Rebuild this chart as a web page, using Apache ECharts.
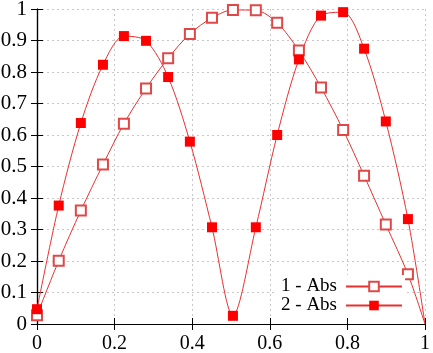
<!DOCTYPE html>
<html>
<head>
    <meta charset="UTF-8">
    <title>Abs</title>
    <script src="https://cdn.jsdelivr.net/npm/echarts@6/dist/echarts.min.js"></script>
    <style>
        html, body { margin: 0; padding: 0; background: #fff; }
        #chart { width: 433px; height: 353px; }
    </style>
</head>
<body>
<div id="chart"></div>
<script>
    // sample positions (shared by both curves)
    var xs = [0, 0.056, 0.113, 0.170, 0.224, 0.281, 0.338, 0.394, 0.451, 0.505,
              0.564, 0.619, 0.675, 0.732, 0.789, 0.843, 0.899, 0.956];
    var abs1 = [0.028, 0.201, 0.36, 0.506, 0.636, 0.748, 0.844, 0.921, 0.972, 0.997,
                0.996, 0.956, 0.868, 0.751, 0.616, 0.471, 0.316, 0.158];
    var abs2 = [0.047, 0.376, 0.638, 0.823, 0.914, 0.899, 0.784, 0.579, 0.307, 0.026,
                0.307, 0.6, 0.84, 0.979, 0.99, 0.874, 0.643, 0.333];
    // where the curves run out at the right edge
    var endPoint = [1, 0];

    var font = 'Liberation Serif';
    var lineRed = '#e83030';

    function toData(vals) {
        var d = [];
        for (var i = 0; i < xs.length; i++) {
            d.push([xs[i], vals[i]]);
        }
        d.push({value: endPoint, symbol: 'none'});
        return d;
    }

    var myChart = echarts.init(document.getElementById('chart'));

    var hiddenAxis = {
        axisLine: {show: true, lineStyle: {color: '#000', width: 1.2}},
        axisTick: {show: true, inside: true, length: 6, lineStyle: {color: '#000'}},
        axisLabel: {show: false},
        splitLine: {show: false}
    };

    myChart.setOption({
        animation: false,
        grid: {left: 37, right: 8, top: 9, bottom: 29, outerBoundsMode: 'none'},
        legend: {
            orient: 'vertical',
            right: 28,
            top: 275,
            align: 'right',
            itemWidth: 56,
            itemHeight: 12,
            itemGap: 0,
            backgroundColor: '#fff',
            padding: [2, 2, 2, 4],
            textStyle: {fontFamily: font, fontSize: 19, color: '#000', padding: [0, 4, 0, 0]},
            data: ['1 - Abs', '2 - Abs']
        },
        xAxis: [{
            type: 'value',
            min: 0,
            max: 1,
            interval: 0.2,
            axisLine: {show: true, onZero: false, lineStyle: {color: '#000', width: 1.2}},
            axisTick: {show: true, inside: true, length: 6, lineStyle: {color: '#000'}},
            axisLabel: {fontFamily: font, fontSize: 20, color: '#000', margin: 10},
            splitLine: {show: true, lineStyle: {color: '#c8c8c8', type: [2, 3], width: 1}}
        }, Object.assign({type: 'value', position: 'top', min: 0, max: 1, interval: 0.2}, hiddenAxis)],
        yAxis: [{
            type: 'value',
            min: 0,
            max: 1,
            interval: 0.1,
            axisLine: {show: true, onZero: false, lineStyle: {color: '#000', width: 1.2}},
            axisTick: {show: true, inside: true, length: 6, lineStyle: {color: '#000'}},
            axisLabel: {fontFamily: font, fontSize: 21, color: '#000', margin: 10},
            splitLine: {show: true, lineStyle: {color: '#c8c8c8', type: [2, 3], width: 1}}
        }, Object.assign({type: 'value', position: 'right', min: 0, max: 1, interval: 0.1}, hiddenAxis)],
        series: [
            {
                name: '1 - Abs',
                type: 'line',
                smooth: 0.3,
                symbol: 'emptyRect',
                symbolSize: 10,
                lineStyle: {color: lineRed, width: 1},
                itemStyle: {color: '#e04848', borderColor: '#e04848', borderWidth: 1},
                data: toData(abs1)
            },
            {
                name: '2 - Abs',
                type: 'line',
                smooth: 0.3,
                symbol: 'rect',
                symbolSize: 10,
                lineStyle: {color: lineRed, width: 1},
                itemStyle: {color: '#ff0000'},
                data: toData(abs2)
            }
        ]
    });
</script>
</body>
</html>
